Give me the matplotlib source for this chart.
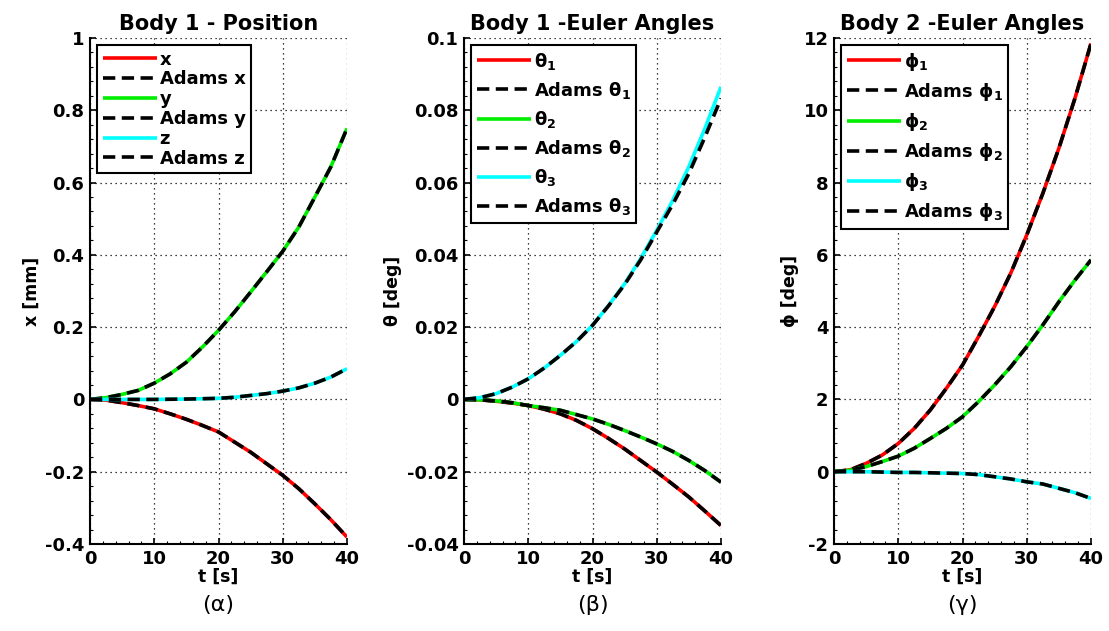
import matplotlib
matplotlib.use("Agg")
import matplotlib.pyplot as plt
from matplotlib.ticker import AutoMinorLocator

plt.rcParams['font.family'] = ['DejaVu Sans']
plt.rcParams['font.weight'] = 'bold'
plt.rcParams['mathtext.fontset'] = 'custom'
plt.rcParams['mathtext.rm'] = 'DejaVu Sans:bold'
plt.rcParams['mathtext.it'] = 'DejaVu Sans:bold'
plt.rcParams['mathtext.bf'] = 'DejaVu Sans:bold'

t = [0, 2.5, 5, 7.5, 10, 12.5, 15, 17.5, 20, 22.5, 25, 27.5, 30, 32.5, 35, 37.5, 40]

# Panel (α): Body 1 position [mm]
pos_x = [0, -0.002, -0.009, -0.017, -0.026, -0.04, -0.055, -0.072, -0.09,
         -0.118, -0.146, -0.178, -0.21, -0.247, -0.289, -0.333, -0.381]
pos_y = [0, 0.005, 0.014, 0.025, 0.045, 0.071, 0.103, 0.145, 0.191,
         0.242, 0.297, 0.353, 0.41, 0.477, 0.56, 0.644, 0.75]
pos_z = [0, 0, 0, 0, 0, 0.0005, 0.001, 0.002, 0.003,
         0.006, 0.011, 0.016, 0.023, 0.032, 0.045, 0.062, 0.085]

# Panel (β): Body 1 Euler angles [deg]
theta1 = [0, -0.0001, -0.0005, -0.001, -0.0017, -0.0027, -0.004, -0.0058, -0.0081,
          -0.0108, -0.0137, -0.0169, -0.0201, -0.0235, -0.027, -0.0309, -0.0349]
theta2 = [0, -0.0001, -0.0004, -0.0009, -0.0017, -0.0023, -0.003, -0.0042, -0.0054,
          -0.0069, -0.0086, -0.0104, -0.0123, -0.0144, -0.0169, -0.0197, -0.0229]
theta3 = [0, 0.0005, 0.0016, 0.0034, 0.0057, 0.0087, 0.0122, 0.016, 0.0205,
          0.026, 0.032, 0.039, 0.0468, 0.0551, 0.0644, 0.075, 0.0865]
adams_theta3 = [0, 0.0005, 0.0016, 0.0034, 0.0057, 0.0087, 0.0122, 0.016, 0.0205,
                0.0259, 0.0318, 0.0386, 0.0463, 0.054, 0.0625, 0.0726, 0.0833]

# Panel (γ): Body 2 Euler angles [deg]
phi1 = [0, 0.05, 0.23, 0.46, 0.78, 1.2, 1.71, 2.31, 2.95,
        3.74, 4.57, 5.49, 6.55, 7.7, 8.95, 10.33, 11.85]
phi2 = [0, 0.04, 0.14, 0.28, 0.43, 0.65, 0.92, 1.2, 1.52,
        1.94, 2.4, 2.9, 3.46, 4.06, 4.7, 5.3, 5.86]
phi3 = [0, 0, 0, -0.01, -0.02, -0.02, -0.03, -0.04, -0.05,
        -0.08, -0.14, -0.2, -0.28, -0.34, -0.46, -0.58, -0.74]

W, H = 1109, 631
fig = plt.figure(figsize=(W / 100, H / 100), dpi=100)

lefts = [90, 464, 834]
width_px = 257
bottom_px = 544
top_px = 38

panels = [
    dict(title='Body 1 - Position', ylabel='x [mm]', ylim=(-0.4, 1.0),
         yticks=[-0.4, -0.2, 0, 0.2, 0.4, 0.6, 0.8, 1],
         yticklabels=['-0.4', '-0.2', '0', '0.2', '0.4', '0.6', '0.8', '1'],
         series=[(pos_x, pos_x, 'x', 'Adams x'),
                 (pos_y, pos_y, 'y', 'Adams y'),
                 (pos_z, pos_z, 'z', 'Adams z')],
         caption='(α)', legend_spacing=0.1),
    dict(title='Body 1 -Euler Angles', ylabel='θ [deg]', ylim=(-0.04, 0.1),
         yticks=[-0.04, -0.02, 0, 0.02, 0.04, 0.06, 0.08, 0.1],
         yticklabels=['-0.04', '-0.02', '0', '0.02', '0.04', '0.06', '0.08', '0.1'],
         series=[(theta1, theta1, 'θ$_1$', 'Adams θ$_1$'),
                 (theta2, theta2, 'θ$_2$', 'Adams θ$_2$'),
                 (theta3, adams_theta3, 'θ$_3$', 'Adams θ$_3$')],
         caption='(β)', legend_spacing=0.45),
    dict(title='Body 2 -Euler Angles', ylabel='ϕ [deg]', ylim=(-2, 12),
         yticks=[-2, 0, 2, 4, 6, 8, 10, 12],
         yticklabels=['-2', '0', '2', '4', '6', '8', '10', '12'],
         series=[(phi1, phi1, 'ϕ$_1$', 'Adams ϕ$_1$'),
                 (phi2, phi2, 'ϕ$_2$', 'Adams ϕ$_2$'),
                 (phi3, phi3, 'ϕ$_3$', 'Adams ϕ$_3$')],
         caption='(γ)', legend_spacing=0.45),
]
colors = ['#ff0000', '#00ee00', '#00ffff']

for left, p in zip(lefts, panels):
    ax = fig.add_axes([left / W, 1 - bottom_px / H, width_px / W, (bottom_px - top_px) / H])
    for (vals, avals, lab, alab), c in zip(p['series'], colors):
        ax.plot(t, vals, color=c, lw=2.6, label=lab, solid_capstyle='butt')
        ax.plot(t, avals, color='black', lw=2.6, ls=(0, (3.4, 1.8)), label=alab)
    ax.set_xlim(0, 40)
    ax.set_ylim(*p['ylim'])
    ax.set_xticks([0, 10, 20, 30, 40])
    ax.set_yticks(p['yticks'])
    ax.set_yticklabels(p['yticklabels'])
    ax.xaxis.set_minor_locator(AutoMinorLocator(5))
    ax.yaxis.set_minor_locator(AutoMinorLocator(5))
    ax.tick_params(which='major', direction='in', labelsize=13, width=1.2, length=4, pad=4)
    ax.tick_params(which='minor', direction='in', width=0.8, length=2)
    for lab in ax.get_xticklabels() + ax.get_yticklabels():
        lab.set_fontweight('bold')
    ax.spines['top'].set_visible(False)
    ax.spines['right'].set_visible(False)
    ax.spines['left'].set_linewidth(1.5)
    ax.spines['bottom'].set_linewidth(1.5)
    ax.grid(True, which='major', color='black', ls=(0, (1, 3)), lw=0.9)
    ax.set_title(p['title'], fontsize=15, fontweight='bold', pad=6)
    ax.set_xlabel('t [s]', fontsize=12.5, fontweight='bold', labelpad=0)
    ax.set_ylabel(p['ylabel'], fontsize=12.5, fontweight='bold', labelpad=3)
    leg = ax.legend(loc='upper left', frameon=True, fancybox=False,
                    edgecolor='black', handlelength=3.0, handletextpad=0.15,
                    labelspacing=p['legend_spacing'], borderpad=0.3,
                    borderaxespad=0.4, framealpha=1,
                    prop={'weight': 'bold', 'size': 13, 'family': 'DejaVu Sans'})
    leg.get_frame().set_linewidth(1.5)
    cx = (left + width_px / 2) / W
    fig.text(cx, 1 - 605 / H, p['caption'], ha='center', va='center',
             fontsize=16, fontweight='normal', family='DejaVu Sans')

fig.savefig('out.png', dpi=100)
